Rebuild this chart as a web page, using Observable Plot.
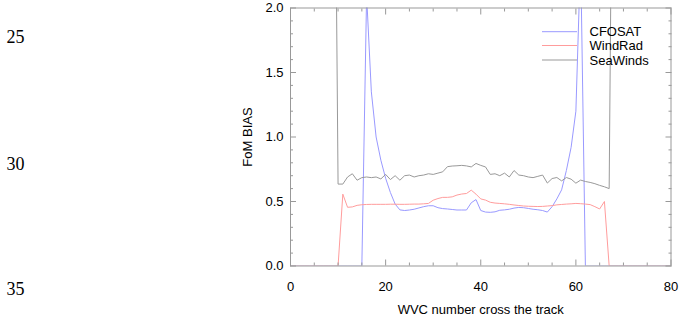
<!DOCTYPE html>
<html>
<head>
<meta charset="utf-8">
<script src="https://cdn.jsdelivr.net/npm/d3@7"></script>
<script src="https://cdn.jsdelivr.net/npm/@observablehq/plot@0.6"></script>
<style>
  html, body { margin: 0; padding: 0; background: #fff; }
  #chart { width: 681px; height: 318px; position: relative; overflow: hidden; }
</style>
</head>
<body>
<div id="chart"></div>
<script>
// WVC number (cross-track cell index)
const wvc = d3.range(0, 81);

// FoM BIAS per WVC
const cfosat = [
  0, 0, 0, 0, 0, 0, 0, 0, 0, 0, 0, 0, 0, 0, 0, 0,
  2.1, 1.35, 1.0, 0.82, 0.68, 0.57, 0.48, 0.435, 0.43, 0.434,
  0.44, 0.45, 0.46, 0.467, 0.467, 0.452, 0.445, 0.442, 0.438, 0.434,
  0.434, 0.434, 0.49, 0.515, 0.43, 0.418, 0.416, 0.42, 0.432, 0.435,
  0.44, 0.449, 0.454, 0.452, 0.446, 0.44, 0.436, 0.43, 0.418, 0.46,
  0.52, 0.59, 0.74, 0.92, 1.2, 2.4,
  0, 0, 0, 0, 0, 0, 0, 0, 0, 0, 0, 0, 0, 0, 0, 0, 0, 0, 0
];
const windrad = [
  0, 0, 0, 0, 0, 0, 0, 0, 0, 0, 0,
  0.557, 0.455, 0.458, 0.47, 0.475, 0.477, 0.478, 0.478, 0.478, 0.478,
  0.479, 0.479, 0.478, 0.478, 0.479, 0.48, 0.48, 0.482, 0.485, 0.51,
  0.523, 0.532, 0.532, 0.536, 0.55, 0.558, 0.562, 0.588, 0.557, 0.52,
  0.511, 0.494, 0.488, 0.485, 0.482, 0.478, 0.473, 0.469, 0.465, 0.463,
  0.462, 0.461, 0.462, 0.465, 0.468, 0.474, 0.477, 0.48, 0.482, 0.485,
  0.483, 0.48, 0.476, 0.46, 0.442, 0.50,
  0, 0, 0, 0, 0, 0, 0, 0, 0, 0, 0, 0, 0, 0
];
const seawinds = [
  5, 5, 5, 5, 5, 5, 5, 5, 5, 5,
  0.635, 0.635, 0.69, 0.715, 0.665, 0.685, 0.69, 0.685, 0.69, 0.675,
  0.71, 0.67, 0.70, 0.665, 0.70, 0.705, 0.69, 0.70, 0.705, 0.715,
  0.71, 0.72, 0.73, 0.77, 0.775, 0.777, 0.78, 0.776, 0.768, 0.795,
  0.78, 0.768, 0.71, 0.715, 0.70, 0.72, 0.69, 0.74, 0.705, 0.70,
  0.69, 0.685, 0.695, 0.705, 0.643, 0.678, 0.686, 0.66, 0.686, 0.673,
  0.642, 0.666, 0.655, 0.648, 0.638, 0.625, 0.614, 0.60,
  5, 5, 5, 5, 5, 5, 5, 5, 5, 5, 5, 5, 5
];

const seriesNames = ["CFOSAT", "WindRad", "SeaWinds"];
const seriesColors = ["#9999ff", "#ff9c9c", "#999999"];
const seriesValues = [cfosat, windrad, seawinds];

// Axis ticks
const xMajor = [0, 20, 40, 60, 80];
const xMinor = [5, 10, 15, 25, 30, 35, 45, 50, 55, 65, 70, 75];
const yMajor = [0, 0.5, 1.0, 1.5, 2.0];
const yMinor = [0.1, 0.2, 0.3, 0.4, 0.6, 0.7, 0.8, 0.9, 1.1, 1.2, 1.3, 1.4, 1.6, 1.7, 1.8, 1.9];

// Page line numbers (from the source document margin)
const lineNumbers = ["25", "30", "35"];

const rows = [];
seriesNames.forEach((name, s) => {
  wvc.forEach((w, i) => rows.push({series: name, wvc: w, value: seriesValues[s][i]}));
});

const axisGray = "#999999";
const font = "'Liberation Sans', Arial, Helvetica, sans-serif";

const lineMarks = seriesNames.map((name, s) =>
  Plot.line(rows.filter(d => d.series === name), {
    x: "wvc", y: "value", stroke: seriesColors[s], strokeWidth: 1, clip: true
  })
);

const chart = Plot.plot({
  width: 681,
  height: 318,
  marginLeft: 290,
  marginRight: 10.5,
  marginTop: 7.5,
  marginBottom: 52.5,
  x: {domain: [0, 80]},
  y: {domain: [0, 2]},
  style: {fontFamily: font, fontSize: "13px", color: "#000", background: "#fff", overflow: "visible"},
  marks: [
    ...lineMarks,
    Plot.frame({stroke: axisGray}),
    // bottom
    Plot.axisX(xMinor, {anchor: "bottom", tickSize: -3, stroke: axisGray, fill: "none", label: null}),
    Plot.axisX(xMajor, {anchor: "bottom", tickSize: -6, tickPadding: 22, stroke: axisGray, fill: "#000",
      tickFormat: d3.format("d"), label: "WVC number cross the track", labelAnchor: "center",
      labelOffset: 48, labelArrow: "none"}),
    // top
    Plot.axisX(xMinor, {anchor: "top", tickSize: -3, stroke: axisGray, fill: "none", label: null}),
    Plot.axisX(xMajor, {anchor: "top", tickSize: -6, stroke: axisGray, fill: "none", label: null}),
    // left
    Plot.axisY(yMinor, {anchor: "left", tickSize: -3, stroke: axisGray, fill: "none", label: null}),
    Plot.axisY(yMajor, {anchor: "left", tickSize: -6, tickPadding: 13, stroke: axisGray, fill: "#000",
      tickFormat: d3.format(".1f"), label: "FoM BIAS", labelAnchor: "center", labelOffset: 48, labelArrow: "none"}),
    // right
    Plot.axisY(yMinor, {anchor: "right", tickSize: -3, stroke: axisGray, fill: "none", label: null}),
    Plot.axisY(yMajor, {anchor: "right", tickSize: -6, stroke: axisGray, fill: "none", label: null})
  ]
});

document.getElementById("chart").appendChild(chart);

// Legend and margin line numbers drawn into the same SVG
const svg = d3.select(chart);
const legend = svg.append("g").attr("font-family", font).attr("font-size", 13).attr("text-anchor", "start");
const legendY = [31.7, 45.5, 60];
seriesNames.forEach((name, s) => {
  legend.append("line")
    .attr("x1", 542).attr("x2", 577)
    .attr("y1", legendY[s]).attr("y2", legendY[s])
    .attr("stroke", seriesColors[s]).attr("stroke-width", 1);
  legend.append("text")
    .attr("x", 589.5).attr("y", legendY[s] + 4.6)
    .attr("fill", "#000")
    .text(name);
});

const lnY = [43, 170, 295];
const ln = svg.append("g")
  .attr("font-family", "'Liberation Serif', 'Times New Roman', serif")
  .attr("font-size", 18).attr("text-anchor", "start");
lineNumbers.forEach((t, i) => {
  ln.append("text").attr("x", 6.5).attr("y", lnY[i]).attr("fill", "#000").text(t);
});
</script>
</body>
</html>
